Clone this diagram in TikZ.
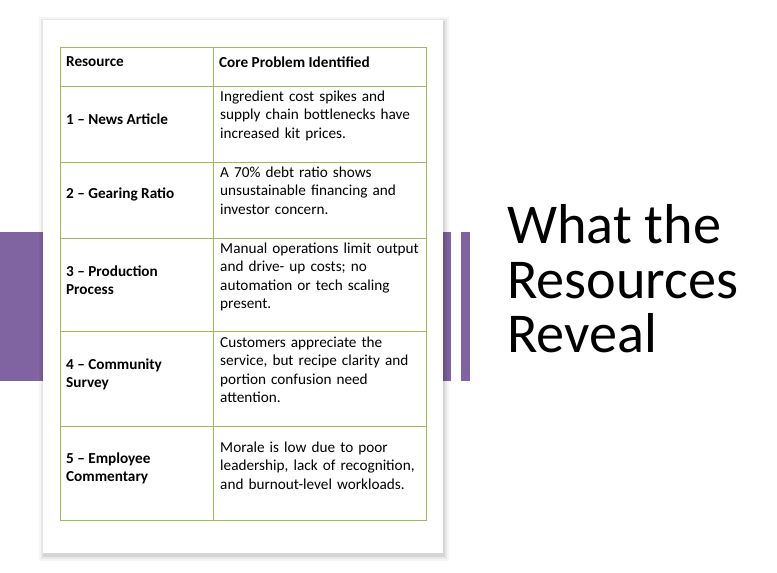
\documentclass[tikz,border=0pt]{standalone}
\usepackage{fontspec}
\setmainfont{Carlito}
\usetikzlibrary{positioning}
\definecolor{plum}{RGB}{128,100,162}
\definecolor{grid}{RGB}{155,187,89}
\begin{document}
\begin{tikzpicture}[x=0.03cm,y=-0.03cm,font=\fontsize{13}{15.5}\selectfont]
% Styles
\tikzstyle{res cell}=[anchor=west,align=left,font=\fontsize{13}{15.5}\selectfont\bfseries];
\tikzstyle{prob cell}=[anchor=north west,align=left,text width=6.2cm,inner sep=0pt];
\useasboundingbox (0,0) rectangle (777,573);
% Bars and card
\fill[plum] (0,232) rectangle (43,381);
\fill[plum] (443,232) rectangle (451,381);
\fill[plum] (461,232) rectangle (470,381);
\foreach \d/\o in {6/0.04,4/0.06,2/0.08}
\fill[black,opacity=\o] (43-\d+2,20-\d+3) rectangle (443+\d,553+\d+2);
\fill[white] (43,20) rectangle (443,553);
% The table
\draw[grid] (60,47) rectangle (426,520);
\draw[grid] (213,47) -- (213,520);
\foreach \y in {86,162,238,331,426}
\draw[grid] (60,\y) -- (426,\y);
% Header
\node(h1)[res cell] at (62,62){Resource};
\node(h2)[res cell] at (215,62){Core Problem Identified};
% Rows
\node(r1)[res cell] at (62,119){1 – News Article};
\node(r2)[res cell] at (62,194){2 – Gearing Ratio};
\node(r3)[res cell] at (62,280){3 – Production\\Process};
\node(r4)[res cell] at (62,374){4 – Community\\Survey};
\node(r5)[res cell] at (62,468){5 – Employee\\Commentary};
\node(p1)[prob cell] at (220,91){Ingredient cost spikes and\\supply chain bottlenecks have\\increased kit prices.};
\node(p2)[prob cell] at (220,167){A 70\% debt ratio shows\\unsustainable financing and\\investor concern.};
\node(p3)[prob cell] at (220,243){Manual operations limit output\\and drive- up costs; no\\automation or tech scaling\\present.};
\node(p4)[prob cell] at (220,337){Customers appreciate the\\service, but recipe clarity and\\portion confusion need\\attention.};
\node(p5)[prob cell] at (220,442){Morale is low due to poor\\leadership, lack of recognition,\\and burnout-level workloads.};
% Title
\node(title)[anchor=west,align=left,font=\fontsize{48}{46.5}\selectfont] at (503,279){What the\\Resources\\Reveal};
\end{tikzpicture}
\end{document}
